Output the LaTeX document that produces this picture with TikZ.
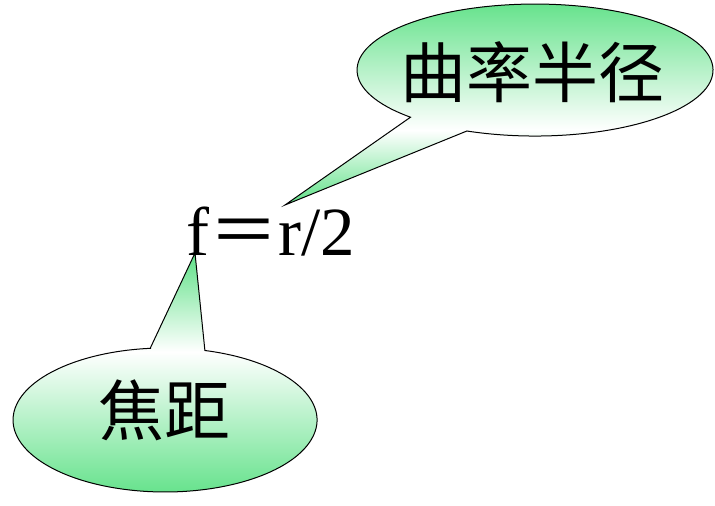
\documentclass[tikz,border=0pt]{standalone}
\usepackage{fontspec}
\setmainfont{Liberation Serif}
\newfontfamily\cjk{Noto Sans CJK SC}
\definecolor{callgreen}{RGB}{95,225,135}
\pgfdeclareverticalshading{gwgtop}{100bp}{color(0bp)=(callgreen); color(25bp)=(callgreen); color(43bp)=(white); color(75bp)=(callgreen); color(100bp)=(callgreen)}
\pgfdeclareverticalshading{gwgbot}{100bp}{color(0bp)=(callgreen); color(25bp)=(callgreen); color(55bp)=(white); color(75bp)=(callgreen); color(100bp)=(callgreen)}
\tikzset{
  callout/.style={draw=black, line width=1pt, line join=miter},
  cjklabel/.style={inner sep=0pt, font=\cjk\fontsize{66}{70}\selectfont},
}
\begin{document}
\begin{tikzpicture}[x=1pt,y=1pt]
\useasboundingbox (0,0) rectangle (715,506);
% top callout
\coordinate (ttip) at (285,301);
\coordinate (tb1) at (410.5,388.8);
\coordinate (tb2) at (466.9,375.0);
\path[callout, shading=gwgtop] (tb2) -- (ttip) -- (tb1)
  arc[start angle=225.6, end angle=-112.5, x radius=178, y radius=66] -- cycle;
% bottom callout
\coordinate (btip) at (195,253);
\coordinate (bb1) at (150.2,157.7);
\coordinate (bb2) at (204.9,155.5);
\path[callout, shading=gwgbot] (bb1) -- (btip) -- (bb2)
  arc[start angle=74.8, end angle=-264.4, x radius=152, y radius=72] -- cycle;
% texts
\node[cjklabel] (curv) at (532,434) {曲率半径};
\node[cjklabel] (focal) at (164,96) {焦距};
\node[inner sep=0pt, anchor=base west, font=\fontsize{69}{72}\selectfont] (formula) at (186,250) {f{\cjk ＝}r/2};
\end{tikzpicture}
\end{document}
